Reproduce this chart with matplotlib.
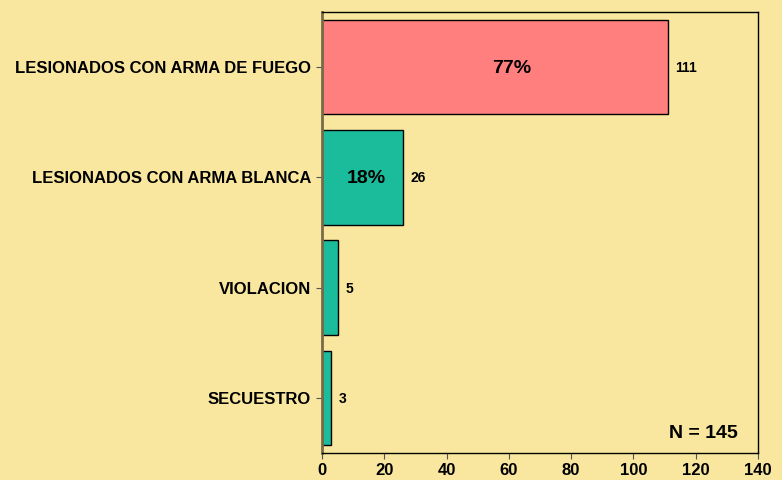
import matplotlib
matplotlib.use('Agg')
import matplotlib.pyplot as plt

categorias = ['LESIONADOS CON ARMA DE FUEGO', 'LESIONADOS CON ARMA BLANCA', 'VIOLACION', 'SECUESTRO']
casos = [111, 26, 5, 3]
porcentajes = ['77%', '18%', '', '']
total = 145
colores = ['#FF7F7F', '#1ABC9C', '#1ABC9C', '#1ABC9C']
fondo = '#F9E79F'

plt.rcParams['font.family'] = ['Liberation Sans', 'DejaVu Sans']
plt.rcParams['font.weight'] = 'bold'

fig = plt.figure(figsize=(7.82, 4.8), dpi=100, facecolor=fondo)
ax = fig.add_axes([322 / 782, 27 / 480, 436 / 782, 441 / 480], facecolor=fondo)

pos = list(range(len(categorias)))
ax.barh(pos, casos, height=0.855, color=colores, edgecolor='black', linewidth=1)

for p, v, pct in zip(pos, casos, porcentajes):
    ax.text(v + 2.5, p + 0.01, str(v), va='center', ha='left', fontsize=10, fontweight='bold')
    if pct:
        ax.text(v * 0.55, p + 0.01, pct, va='center', ha='center', fontsize=14, fontweight='bold')

ax.text(0.954, 0.045, 'N = %d' % total, transform=ax.transAxes, ha='right', va='center',
        fontsize=14, fontweight='bold')

ax.set_xlim(0, 140)
ax.set_ylim(3.5, -0.5)
ax.set_xticks(range(0, 141, 20))
ax.set_yticks(pos)
ax.set_yticklabels(categorias)
ax.tick_params(axis='both', labelsize=12, length=4, color='#555555')
ax.tick_params(axis='x', pad=3)
ax.tick_params(axis='y', pad=4)
for s in ax.spines.values():
    s.set_color('black')
    s.set_linewidth(1)
ax.spines['left'].set_color('#776B4A')
ax.spines['left'].set_linewidth(2)

fig.savefig('out.png', dpi=100, facecolor=fondo)
